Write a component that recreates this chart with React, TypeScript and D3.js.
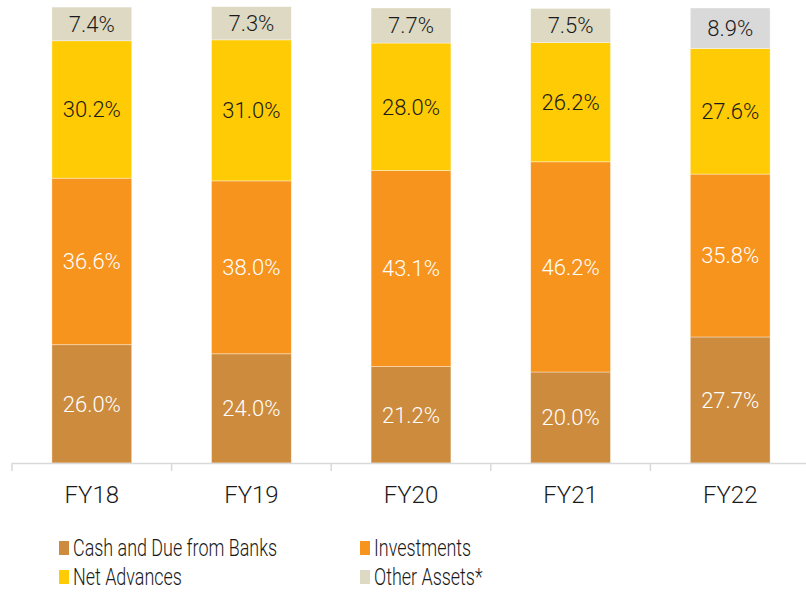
import React, { useEffect, useRef } from 'react';
import * as d3 from 'd3';

const years = ['FY18', 'FY19', 'FY20', 'FY21', 'FY22'];
const cashAndDue = [26.0, 24.0, 21.2, 20.0, 27.7];
const investments = [36.6, 38.0, 43.1, 46.2, 35.8];
const netAdvances = [30.2, 31.0, 28.0, 26.2, 27.6];
const otherAssets = [7.4, 7.3, 7.7, 7.5, 8.9];
const seriesNames = ['Cash and Due from Banks', 'Investments', 'Net Advances', 'Other Assets*'];

const FONT = 'Roboto, sans-serif';

const App = () => {
  const chartRef = useRef<SVGSVGElement>(null);

  useEffect(() => {
    const svg = d3.select(chartRef.current);
    svg.selectAll('*').remove(); // Clear old chart

    const width = 806;
    const base = 463;

    const colors = ['#CD8B3E', '#F7941E', '#FFCB05', '#DDD9C3'];
    const textColors = ['#fff', '#fff', '#1a1a1a', '#1a1a1a'];

    const rows = years.map((y, i) => ({
      year: y,
      s0: cashAndDue[i],
      s1: investments[i],
      s2: netAdvances[i],
      s3: otherAssets[i],
    }));

    const x = d3.scaleBand().domain(years).range([12, 810]).paddingInner(0.5).paddingOuter(0.25);
    const y = d3.scaleLinear().domain([0, 100]).range([base, 8]);

    const stack = d3.stack<any>().keys(['s0', 's1', 's2', 's3']);
    const layers = stack(rows);

    const g = svg.append('g');

    layers.forEach((layer, li) => {
      g.selectAll(`.seg${li}`)
        .data(layer)
        .enter()
        .append('rect')
        .attr('x', (d: any) => x(d.data.year)!)
        .attr('width', x.bandwidth())
        .attr('y', (d) => y(d[1]))
        .attr('height', (d) => y(d[0]) - y(d[1]))
        .attr('fill', (d: any) => (li === 3 && d.data.year === 'FY22' ? '#D9D9D9' : colors[li]))
        .style('stroke', 'rgba(255,255,255,0.5)')
        .style('stroke-width', '0.75px');

      g.selectAll(`.lbl${li}`)
        .data(layer)
        .enter()
        .append('text')
        .attr('x', (d: any) => x(d.data.year)! + x.bandwidth() / 2)
        .attr('y', (d) => (y(d[0]) + y(d[1])) / 2)
        .attr('dy', '0.36em')
        .text((d) => `${(d[1] - d[0]).toFixed(1)}%`)
        .style('text-anchor', 'middle')
        .style('font-family', FONT)
        .style('font-weight', 300)
        .style('font-size', '22px')
        .style('fill', textColors[li]);
    });

    // axis
    svg
      .append('line')
      .attr('x1', 12)
      .attr('x2', width)
      .attr('y1', base + 0.5)
      .attr('y2', base + 0.5)
      .style('stroke', '#D9D9D9')
      .style('stroke-width', '1.5px');

    // tick marks on band boundaries
    years.forEach((yr) => {
      const tx = x(yr)! - x.step() / 4;
      svg
        .append('line')
        .attr('x1', tx)
        .attr('x2', tx)
        .attr('y1', base)
        .attr('y2', base + 8)
        .style('stroke', '#D9D9D9')
        .style('stroke-width', '1.5px');
    });

    svg
      .selectAll('.cat')
      .data(years)
      .enter()
      .append('text')
      .attr('x', (d) => x(d)! + x.bandwidth() / 2)
      .attr('y', 503)
      .text((d) => d)
      .style('text-anchor', 'middle')
      .style('font-family', FONT)
      .style('font-weight', 300)
      .style('font-size', '24px')
      .style('fill', '#1a1a1a');

    // legend
    const legendPos = [
      [59, 541],
      [360, 541],
      [59, 570],
      [360, 570],
    ];
    seriesNames.forEach((name, i) => {
      const [lx, ly] = legendPos[i];
      svg
        .append('rect')
        .attr('x', lx)
        .attr('y', ly)
        .attr('width', 10)
        .attr('height', 14)
        .attr('fill', colors[i]);
      svg
        .append('text')
        .attr('transform', `translate(${lx + 14},${ly + 15}) scale(0.78,1)`)
        .text(name)
        .style('font-family', FONT)
        .style('font-weight', 300)
        .style('font-size', '23px')
        .style('fill', '#1a1a1a');
    });
  }, []);

  return (
    <svg
      ref={chartRef}
      width={806}
      height={592}
      style={{ position: 'absolute', left: 0, top: 0, background: '#fff' }}
    ></svg>
  );
};

export default App;
